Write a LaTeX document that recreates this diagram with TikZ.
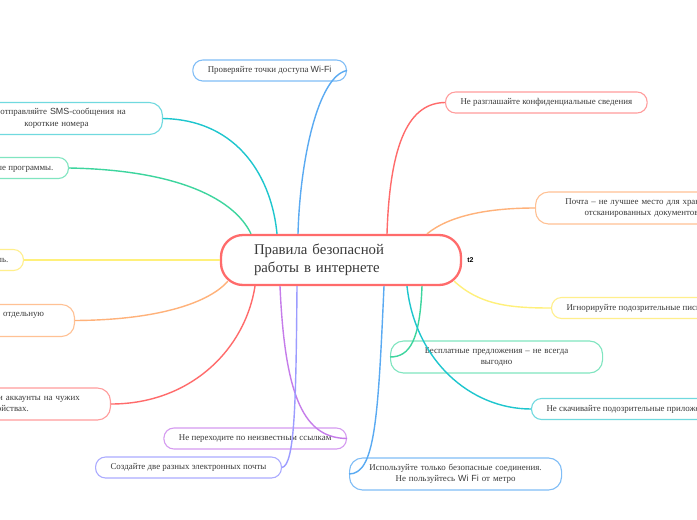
\documentclass[tikz,border=0pt]{standalone}
\usepackage{fontspec}
\setmainfont{Liberation Serif}
\newfontfamily\sansf{Liberation Sans}
\usetikzlibrary{calc}
\definecolor{txt}{HTML}{3A3A3A}
\definecolor{lblue}{HTML}{5AAAF2}\definecolor{bblue}{HTML}{80BDF6}
\definecolor{lteal}{HTML}{1EC6CE}\definecolor{bteal}{HTML}{70D9DF}
\definecolor{lgreen}{HTML}{3DD59E}\definecolor{bgreen}{HTML}{80E5C0}
\definecolor{lyel}{HTML}{FFF07A}\definecolor{byel}{HTML}{FFEF8C}
\definecolor{lpeach}{HTML}{FFB27A}\definecolor{bpeach}{HTML}{FFC194}
\definecolor{lred}{HTML}{FF6B6B}\definecolor{bred}{HTML}{FF9C9C}
\definecolor{lpurple}{HTML}{C57CEA}\definecolor{bpurple}{HTML}{D59BF0}
\definecolor{llav}{HTML}{9C9CFF}\definecolor{blav}{HTML}{ABABFF}
\begin{document}
\begin{tikzpicture}[x=1pt,y=-1pt,
  leaf/.style={draw=#1, rounded corners=10pt, line width=1.1pt, minimum height=21pt,
    inner xsep=15pt, inner ysep=0pt, font=\fontsize{8.9}{11.5}\selectfont, text=txt, align=center},
  leaftwo/.style={leaf=#1, text width=182pt, minimum height=32pt, rounded corners=13pt, inner xsep=15pt},
  conn/.style={draw=#1, line width=1.4pt}]
\useasboundingbox (0,0) rectangle (697,520);
\fill[white] (0,0) rectangle (697,520);
\clip (0,0) rectangle (697,520);

\node[draw=lred, line width=2.3pt, rounded corners=22pt, minimum width=240pt, minimum height=50pt,
  text width=174pt, inner xsep=33pt, align=left, text=txt, font=\fontsize{14.8}{18}\selectfont]
  (root) at (341,260) {Правила безопасной\\работы в интернете};
\node[font=\sansf\bfseries\fontsize{7}{8}\selectfont, text=black, inner sep=0pt] (t2) at (470.5,260.5) {t2};

% left side
\node[leaf=bblue, anchor=east] (wifi) at (347,70.5) {Проверяйте точки доступа {\sansf Wi-Fi}};
\node[leaftwo=bteal, anchor=east] (sms) at (163,118.5) {Не отправляйте {\sansf SMS}-сообщения на\\короткие номера};
\node[leaf=bgreen, anchor=east] (prog) at (69,168) {Не устанавливайте непроверенные программы.};
\node[leaf=byel, anchor=east] (pass) at (24,260) {Используйте надёжный пароль.};
\node[leaftwo=bpeach, anchor=east] (card) at (75,320.5) {Для покупок лучше завести отдельную\\карту};
\node[leaftwo=bred, anchor=east] (acc) at (111,404) {Не заходите в свои аккаунты на чужих\\устройствах.};
\node[leaf=bpurple, anchor=east] (links) at (347,438.5) {Не переходите по неизвестным ссылкам};
\node[leaf=blav, anchor=east] (mail2) at (282,467.5) {Создайте две разных электронных почты};

% right side
\node[leaf=bred, anchor=west] (conf) at (445,102.5) {Не разглашайте конфиденциальные сведения};
\node[leaftwo=bpeach, anchor=west] (scan) at (535,208) {Почта – не лучшее место для хранения\\отсканированных документов};
\node[leaf=byel, anchor=west] (spam) at (551,308) {Игнорируйте подозрительные письма};
\node[leaftwo=bgreen, anchor=west] (free) at (390,357) {Бесплатные предложения – не всегда\\выгодно};
\node[leaf=bteal, anchor=west] (apps) at (531,409) {Не скачивайте подозрительные приложения};
\node[leaftwo=bblue, anchor=west] (secure) at (349,474) {Используйте только безопасные соединения.\\Не пользуйтесь {\sansf Wi Fi} от метро};

% connectors
\draw[conn=lblue] ($(root.north)+(-43,0)$) .. controls (300,160) and (318,76) .. (wifi.east);
\draw[conn=lteal] (sms.east) .. controls (240,120) and (272,180) .. ($(root.north)+(-64,0)$);
\draw[conn=lgreen] (prog.east) .. controls (180,170) and (235,200) .. ($(root.north)+(-90,0)$);
\draw[conn=lyel] (pass.east) -- (root.west);
\draw[conn=lpeach] (card.east) .. controls (160,320) and (210,302) .. ($(root.south west)+(8,-5)$);
\draw[conn=lred] (acc.east) .. controls (190,404) and (245,350) .. ($(root.south)+(-86,0)$);
\draw[conn=lpurple] ($(root.south)+(-61,0)$) .. controls (285,400) and (305,438) .. (links.east);
\draw[conn=llav] ($(root.south)+(-44,0)$) .. controls (296,400) and (295,465) .. (mail2.east);
\draw[conn=lred] ($(root.north)+(46,0)$) .. controls (390,140) and (410,103) .. (conf.west);
\draw[conn=lpeach] ($(root.north)+(86,0)$) .. controls (450,215) and (490,208) .. (scan.west);
\draw[conn=lyel] ($(root.south east)+(-8,-5)$) .. controls (480,305) and (510,308) .. (spam.west);
\draw[conn=lgreen] ($(root.south)+(81,0)$) .. controls (420,340) and (410,357) .. (free.west);
\draw[conn=lteal] ($(root.south)+(66,0)$) .. controls (415,360) and (470,409) .. (apps.west);
\draw[conn=lblue] ($(root.south)+(43,0)$) .. controls (378,420) and (375,474) .. (secure.west);
\end{tikzpicture}
\end{document}
